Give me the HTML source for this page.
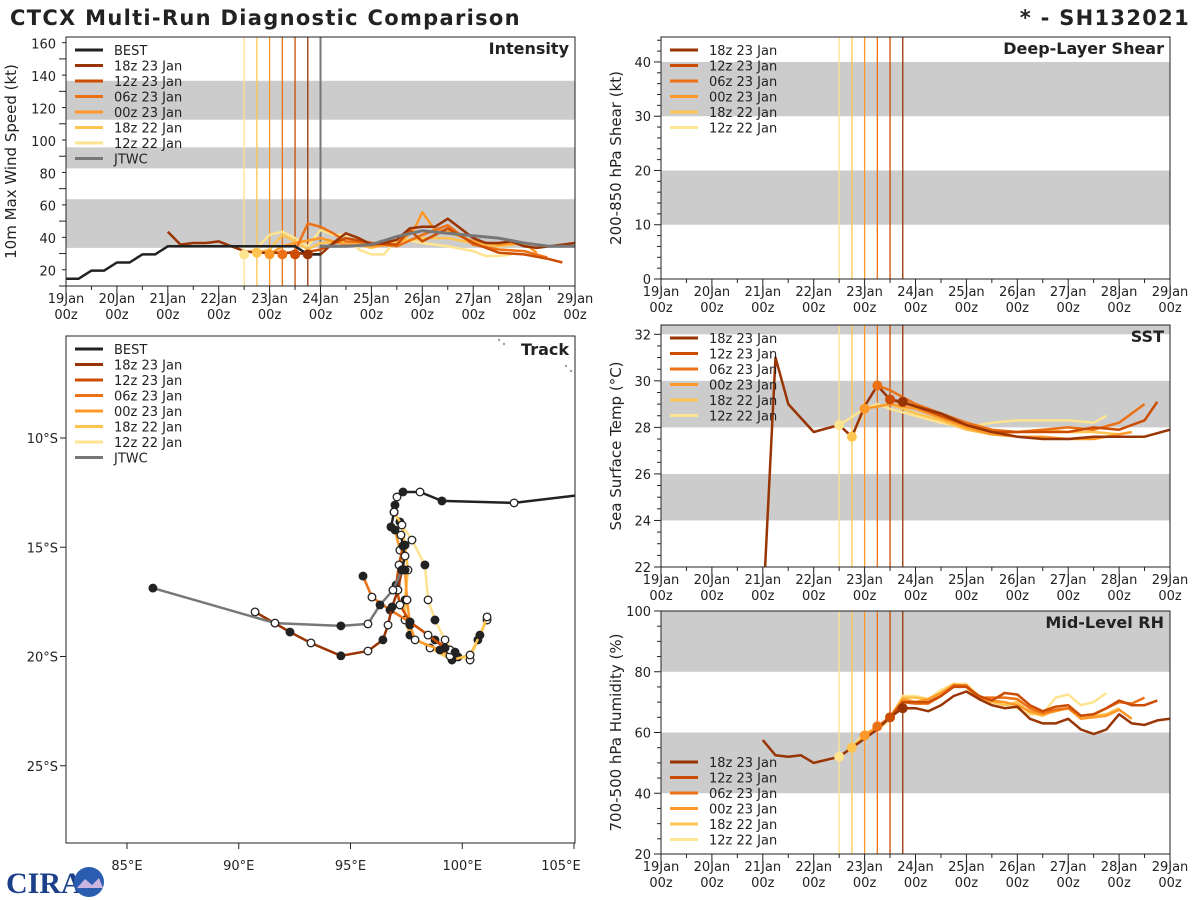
<!DOCTYPE html>
<html><head><meta charset="utf-8"><style>
html,body{margin:0;padding:0;background:#fff;width:1200px;height:900px;overflow:hidden}
svg{display:block;font-family:"DejaVu Sans","Liberation Sans",sans-serif}
</style></head><body>
<svg id="c" width="1200" height="900" viewBox="0 0 1200 900" xmlns="http://www.w3.org/2000/svg">
<text x="10" y="25" font-size="21" font-weight="bold" fill="#222" letter-spacing="1.3">CTCX Multi-Run Diagnostic Comparison</text>
<text x="1190" y="25" font-size="21" font-weight="bold" fill="#222" letter-spacing="1.3" text-anchor="end">* - SH132021</text>
<g>
<text x="6" y="893" font-size="30" font-weight="bold" fill="#1c3f8a" font-family="Liberation Serif,serif">CIRA</text>
<circle cx="89" cy="882" r="15" fill="#2a5db0"/>
<path d="M77 888 L85 879 L92 885 L99 878 L103 888 Z" fill="#c9b4e0"/>
</g>
</svg>
<script>
// ---------- data ----------
const runNames = ['18z 23 Jan','12z 23 Jan','06z 23 Jan','00z 23 Jan','18z 22 Jan','12z 22 Jan'];
const runColors = ['#993404','#cc4c02','#ec7014','#fe9929','#fec44f','#fee391'];
const runInitHours = [114,108,102,96,90,84];
const dayLabels = ['19Jan','20Jan','21Jan','22Jan','23Jan','24Jan','25Jan','26Jan','27Jan','28Jan','29Jan'];

const bestHours = [0,6,12,18,24,30,36,42,48,54,60,66,72,78,84,90,96,102,108,114,120];
const bestVmax = [15,15,20,20,25,25,30,30,35,35,35,35,35,35,35,35,35,35,35,30,30];
const jtwcHours = [120,132,144,156,168,180,192,204,216,228,240];
const jtwcVmax = [35,35,36,41,44.5,43,41.5,40,37,35,35];

const vmaxHours = [
 [48,54,60,66,72,78,84,90,96,102,108,114,120,126,132,138,144,150,156,162,168,174,180,186,192,198,204,210,216,222,228,234,240],
 [108,120,132,144,156,162,168,180,192,204,216,228,234],
 [102,108,114,120,126,132,144,156,168,180,192,204,216,227],
 [96,102,108,120,132,144,156,164,168,174,180,192,204,216,222],
 [90,96,102,108,114,120,132,144,156,168,180,192,204,216,222],
 [84,90,96,102,108,114,120,126,132,138,144,150,156,168,180,192,198,204,210]
];
const vmaxVals = [
 [44,36,37,37,38,35,32,31,31,31,31,30,30,37,43,40,36,37,39,46,47,47,52,46,40,37,37,38,35,34,35,36,37],
 [30,33,40,37,36,45,38,46,37,31,30,27,25],
 [30,32,49,47,43,38,37,35,42,48,36,33,32,28],
 [30,35,37,40,36,35,36,45,56,45,44,38,36,37,31],
 [31,33,42,38,33,37,38,34,38,40,40,37,35,37,36],
 [30,34,42,44,40,35,45,42,42,33,30,30,40,37,35,32,29,29,30]
];

const sstHours = [
 [48,54,60,66,72,78,84,90,96,102,108,114,120,132,144,156,168,180,192,204,216,228,240],
 [108,120,132,144,156,168,180,192,204,216,228,234],
 [102,108,120,132,144,156,168,180,192,204,216,228],
 [96,108,120,132,144,156,168,180,192,204,216,222],
 [90,96,108,120,132,144,156,168,180,192,204,216],
 [84,96,102,108,120,132,144,156,168,180,192,204,210]
];
const sstVals = [
 [20,31,29,28.4,27.8,27.95,28.1,27.6,28.9,29.8,29.2,29.1,28.9,28.6,28.1,27.8,27.6,27.5,27.5,27.6,27.6,27.6,27.9],
 [29.2,28.9,28.5,28.1,27.8,27.8,27.8,27.8,28.0,27.9,28.3,29.1],
 [29.8,29.6,29.0,28.6,28.2,27.9,27.8,27.9,28.0,27.9,28.2,29.0],
 [28.8,29.0,28.8,28.4,28.0,27.7,27.6,27.6,27.5,27.5,27.7,27.8],
 [27.6,28.8,29.0,28.6,28.3,27.9,27.7,27.8,27.9,27.8,27.8,27.7],
 [28.1,28.8,29.0,28.8,28.5,28.2,28.0,28.2,28.3,28.3,28.3,28.2,28.5]
];

const rhHours = [
 [48,54,60,66,72,84,90,96,102,108,114,120,126,132,138,144,150,156,162,168,174,180,186,192,198,204,210,216,222,228,234,240],
 [108,114,120,126,132,138,144,150,156,162,168,174,180,186,192,198,204,210,216,222,228,234],
 [102,108,114,120,126,132,138,144,150,156,162,168,174,180,186,192,198,204,210,216,222,228],
 [96,102,108,114,120,126,132,138,144,150,156,162,168,174,180,186,192,198,204,210,216,222],
 [90,96,102,108,114,120,126,132,138,144,150,156,162,168,174,180,186,192,198,204,210,216],
 [84,90,96,102,108,114,120,126,132,138,144,150,156,162,168,174,180,186,192,198,204,210]
];
const rhVals = [
 [57.5,52.5,52,52.5,50,52,55,58,61,65,68,68,67,69,72,73.5,71,69,68,68.5,64.5,63,63,64.5,61,59.5,61,66,63,62.5,64,64.5],
 [65,70,70,70,72,75,75,72,70.5,73,72.5,69,67,68.5,69,65.5,66,68,70.5,69,69,70.5],
 [62,65,70,69.5,69.5,72,75.5,75.5,71.5,71.5,71.5,71,68,66.5,67.5,68,65.5,66,68,70,69.5,71.5],
 [59,62,65,71,70,71,73,75.5,75,71,70.5,70,69,67,66,67,68,64.5,65,65.5,67.5,64.5],
 [55,59,61,65,71.5,71.5,71,73,76,75,71,70,69,70,66.5,65.5,67.5,68,65,65.5,66,68],
 [52,55,60,61,64,72,72,71,74,76,76,72,70,69.5,68,66,66,71.5,72.5,69,70,73]
];

const bestLon = [105.27,102.32,99.09,98.11,97.35,97.08,96.99,96.95,96.81,97.26,97.35,97.44,97.30];
const bestLat = [12.61,12.97,12.88,12.47,12.47,12.70,13.07,13.39,14.07,14.44,14.94,15.40,16.04];
const jtwcLon = [97.30,96.90,96.32,95.78,94.57,91.62,86.16];
const jtwcLat = [16.04,16.96,17.64,18.51,18.60,18.47,16.87];
const trackLon = [
 [97.30,97.12,96.86,96.68,96.45,95.78,94.57,93.23,92.29,90.73],
 [97.35,97.17,97.04,97.21,97.66,98.47,99.23],
 [95.56,95.96,96.77,97.66,98.78,99.45,99.68],
 [96.99,97.21,97.44,97.53,97.66,97.89,99.00,99.45],
 [96.95,97.30,97.44,97.57,97.44,97.44,97.66,98.56,99.54,100.35,100.79,101.11],
 [97.21,97.75,98.33,98.47,98.78,99.23,99.81,100.35,100.70,101.11]
];
const trackLat = [
 [16.04,16.96,17.73,18.56,19.24,19.75,19.97,19.38,18.88,17.96],
 [14.94,15.81,16.73,17.64,18.42,19.02,19.61],
 [16.32,17.28,17.87,18.42,19.24,19.70,19.80],
 [14.21,15.13,16.04,17.41,18.56,19.24,19.70,19.97],
 [13.39,13.98,14.90,16.04,17.41,18.33,19.02,19.61,20.16,19.93,19.02,18.19],
 [13.84,14.67,15.81,17.41,18.33,19.24,20.02,20.16,19.24,18.33]
];

// ---------- drawing ----------
const NS='http://www.w3.org/2000/svg';
const svg=document.getElementById('c');
function mk(tag,attrs,parent){const e=document.createElementNS(NS,tag);for(const k in attrs)e.setAttribute(k,attrs[k]);(parent||svg).appendChild(e);return e;}
const INK='#222';

function timePanel(p){
  const g=mk('g',{});
  
  
  const L=p.L,R=p.R,T=p.T,B=p.B;
  const xs=h=>L+(R-L)*h/240;
  const ys=v=>B-(B-T)*(v-p.ymin)/(p.ymax-p.ymin);
  p.bands.forEach(b=>{
    const y1=ys(Math.min(b[1],p.ymax)),y0=ys(Math.max(b[0],p.ymin));
    const r=mk('rect',{x:L,y:y1,width:R-L,height:y0-y1,fill:'#cccccc'},g);
    
    
  });
  runInitHours.forEach((h,i)=>{
    const l=mk('line',{x1:xs(h),x2:xs(h),y1:T,y2:B,stroke:runColors[i],'stroke-width':1.3},g);
    
    
  });
  if(p.jtwcLine){const l=mk('line',{x1:xs(120),x2:xs(120),y1:T,y2:B,stroke:'#777','stroke-width':2},g);
    
    }
  const cid='clip-'+p.name;
  const cp=mk('clipPath',{id:cid},g);mk('rect',{x:L,y:T,width:R-L,height:B-T},cp);
  const sg=mk('g',{'clip-path':'url(#'+cid+')'},g);
  function series(hours,vals,color,w,nm){
    const pts=hours.map((h,j)=>xs(h).toFixed(1)+','+ys(vals[j]).toFixed(1)).join(' ');
    const pl=mk('polyline',{points:pts,fill:'none',stroke:color,'stroke-width':w,'stroke-linejoin':'round'},sg);
    
    
  }
  if(p.series){
    for(let i=p.series.h.length-1;i>=0;i--){
      series(p.series.h[i],p.series.v[i],runColors[i],2.5,'series-run-'+i);
    }
    if(p.extra)p.extra(series,sg);
    for(let i=p.series.h.length-1;i>=0;i--){
      const k=p.series.h[i].indexOf(runInitHours[i]);
      if(k>=0){const c=mk('circle',{cx:xs(runInitHours[i]),cy:ys(p.series.v[i][k]),r:5,fill:runColors[i]},sg);
        
        }
    }
  }
  const f=mk('rect',{x:L,y:T,width:R-L,height:B-T,fill:'none',stroke:INK,'stroke-width':1},g);
  
  
  for(let h=0;h<=240;h+=12){
    const maj=h%24===0;
    mk('line',{x1:xs(h),x2:xs(h),y1:B,y2:B+(maj?7:4),stroke:INK},g);
    if(maj){
      const t=mk('text',{x:xs(h),y:B+17,'font-size':13,'text-anchor':'middle',fill:INK},g);
      t.textContent=dayLabels[h/24];
      
      
      const t2=mk('text',{x:xs(h),y:B+33,'font-size':13,'text-anchor':'middle',fill:INK},g);
      t2.textContent='00z';
      
      
    }
  }
  for(let v=p.ymin;v<=p.ymax+0.001;v+=p.minor){
    const maj=Math.abs((v-p.ymin)/p.major-Math.round((v-p.ymin)/p.major))<1e-6;
    mk('line',{x1:L,x2:L-(maj?7:4),y1:ys(v),y2:ys(v),stroke:INK},g);
  }
  p.yticks.forEach(v=>{
    const t=mk('text',{x:L-10,y:ys(v)+5,'font-size':13,'text-anchor':'end',fill:INK},g);
    t.textContent=v;
    
    
  });
  const yt=mk('text',{x:0,y:0,'font-size':15,'text-anchor':'middle',fill:INK,transform:`translate(${p.ytx},${(T+B)/2}) rotate(-90)`},g);
  yt.textContent=p.ytitle;
  
  
  const pt=mk('text',{x:R-6,y:T+17,'font-size':16,'font-weight':'bold','text-anchor':'end',fill:INK},g);
  pt.textContent=p.title;
  
  
  legend(g,L+9,p.legY,p.withBest);
}
function legend(g,x,y,withBest){
  const items=[];
  if(withBest)items.push(['BEST','#222']);
  runNames.forEach((n,i)=>items.push([n,runColors[i]]));
  if(withBest)items.push(['JTWC','#777']);
  const lg=mk('g',{},g);
  
  
  items.forEach((it,k)=>{
    const yy=y+k*15.5;
    mk('line',{x1:x,x2:x+28,y1:yy,y2:yy,stroke:it[1],'stroke-width':3},lg);
    const t=mk('text',{x:x+39,y:yy+5,'font-size':13,fill:INK},lg);
    t.textContent=it[0];
    
    
  });
}

timePanel({name:'intensity',L:66,R:575,T:37,B:286,ymin:10.5,ymax:164,major:20,minor:10,yticks:[20,40,60,80,100,120,140,160],
  bands:[[34,64],[83,96],[113,137]],ytitle:'10m Max Wind Speed (kt)',ytx:16,title:'Intensity',legY:50,withBest:true,jtwcLine:true,
  series:{h:vmaxHours,v:vmaxVals},
  extra:(series,sg)=>{
    series(bestHours,bestVmax,'#222',2.5,'best-track-intensity');
    series(jtwcHours,jtwcVmax,'#777',3,'jtwc-intensity');
  }});
timePanel({name:'shear',L:661,R:1170,T:37,B:279,ymin:0,ymax:44.6,major:10,minor:2,yticks:[0,10,20,30,40],
  bands:[[10,20],[30,40]],ytitle:'200-850 hPa Shear (kt)',ytx:621,title:'Deep-Layer Shear',legY:50,withBest:false});
timePanel({name:'sst',L:661,R:1170,T:325,B:567,ymin:22,ymax:32.4,major:2,minor:0.5,yticks:[22,24,26,28,30,32],
  bands:[[24,26],[28,30],[32,33]],ytitle:'Sea Surface Temp (°C)',ytx:621,title:'SST',legY:338,withBest:false,
  series:{h:sstHours,v:sstVals}});
timePanel({name:'rh',L:661,R:1170,T:611,B:854,ymin:20,ymax:100,major:20,minor:5,yticks:[20,40,60,80,100],
  bands:[[40,60],[80,100]],ytitle:'700-500 hPa Humidity (%)',ytx:621,title:'Mid-Level RH',legY:762,withBest:false,
  series:{h:rhHours,v:rhVals}});

// ---------- track ----------
(function(){
  const L=66,R=575,T=336,B=843;
  const g=mk('g',{});
  
  
  const xs=lon=>127+(lon-85)*22.35;
  const ys=lat=>438+(lat-10)*21.85;
  const cp=mk('clipPath',{id:'clip-track'},g);mk('rect',{x:L,y:T,width:R-L,height:B-T},cp);
  const sg=mk('g',{'clip-path':'url(#clip-track)'},g);
  [[499,340],[504,344],[566,366],[571,371]].forEach(p=>{mk('circle',{cx:p[0],cy:p[1],r:1.2,fill:'#999'},sg);});
  function trk(lon,lat,color,nm,w,mark){
    const pts=lon.map((v,j)=>xs(v).toFixed(1)+','+ys(lat[j]).toFixed(1)).join(' ');
    const pl=mk('polyline',{points:pts,fill:'none',stroke:color,'stroke-width':w,'stroke-linejoin':'round'},sg);
    
    
    if(mark)lon.forEach((v,j)=>{
      const c=mk('circle',{cx:xs(v),cy:ys(lat[j]),r:3.8,fill:j%2?'#fff':'#222',stroke:'#222','stroke-width':1.3},sg);
      
      
    });
  }
  for(let i=trackLon.length-1;i>=0;i--)trk(trackLon[i],trackLat[i],runColors[i],'track-run-'+i,2.5,true);
  trk(jtwcLon,jtwcLat,'#777','jtwc-track',2.5,true);
  trk(bestLon,bestLat,'#222','best-track',2.5,true);
  const f=mk('rect',{x:L,y:T,width:R-L,height:B-T,fill:'none',stroke:INK},g);
  
  
  [85,90,95,100,105].forEach(lon=>{
    mk('line',{x1:xs(lon),x2:xs(lon),y1:B,y2:B+6,stroke:INK},g);
    const t=mk('text',{x:Math.min(xs(lon),561),y:B+27,'font-size':13,'text-anchor':'middle',fill:INK},g);
    t.textContent=lon+'°E';
    
    
  });
  [10,15,20,25].forEach(lat=>{
    mk('line',{x1:L,x2:L-6,y1:ys(lat),y2:ys(lat),stroke:INK},g);
    const t=mk('text',{x:L-8,y:ys(lat)+5,'font-size':13,'text-anchor':'end',fill:INK},g);
    t.textContent=lat+'°S';
    
    
  });
  const pt=mk('text',{x:R-6,y:T+19,'font-size':16,'font-weight':'bold','text-anchor':'end',fill:INK},g);
  pt.textContent='Track';
  
  
  legend(g,L+9,349,true);
})();
</script>
</body></html>
